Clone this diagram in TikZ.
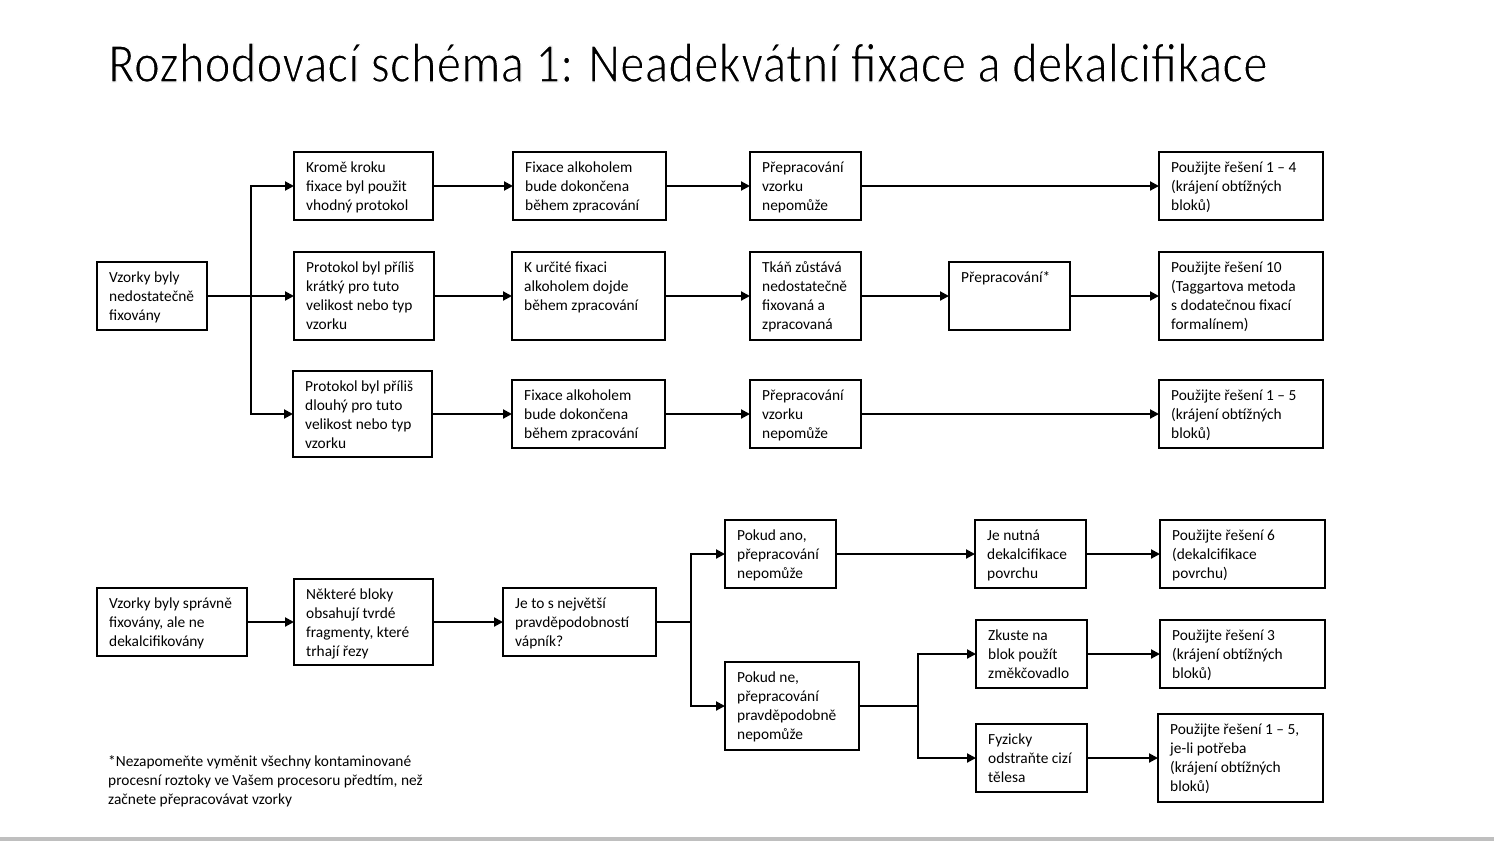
\documentclass[tikz,border=0pt]{standalone}
\usepackage{fontspec}
\setmainfont{Carlito}
\newfontfamily\titlefont[FakeStretch=0.88]{Carlito}
\usetikzlibrary{arrows.meta}
\newcommand{\mybox}[6]{%
  \node[boxst, minimum width=#4pt, minimum height=#5pt, anchor=north west] (#1) at (#2,#3) {};
  \node[txt, anchor=north west] (#1t) at ([shift={(12,6)}]#1.north west) {\rule{0pt}{14pt}#6};}
\newcommand{\thintext}[1]{\special{pdf:code 2 Tr 1 1 1 RG 1.2 w 1 j}#1\special{pdf:code 0 Tr 0 0 0 RG}}
\begin{document}
\begin{tikzpicture}[x=1pt,y=-1pt,
  boxst/.style={draw=black, line width=2.2pt, inner sep=0pt, outer sep=0pt, fill=white},
  txt/.style={inner sep=0pt, align=left, font=\fontsize{15.4}{19}\selectfont},
  arr/.style={line width=2pt, -{Triangle[length=9pt,width=9pt]}},
  ln/.style={line width=2pt}]
\useasboundingbox (0,0) rectangle (1494,841);
\fill[white] (0,0) rectangle (1494,841);
\fill[black!25] (0,837) rectangle (1494,841);
% top group
\mybox{A}{97}{262}{110}{68}{Vzorky byly\\nedostatečně\\fixovány}
\mybox{B1}{294}{152}{139}{68}{Kromě kroku\\fixace byl použit\\vhodný protokol}
\mybox{B2}{294}{252}{140}{88}{Protokol byl příliš\\krátký pro tuto\\velikost nebo typ\\vzorku}
\mybox{B3}{293}{371}{139}{86}{Protokol byl příliš\\dlouhý pro tuto\\velikost nebo typ\\vzorku}
\mybox{C1}{513}{152}{153}{68}{Fixace alkoholem\\bude dokončena\\během zpracování}
\mybox{C2}{512}{252}{153}{88}{K určité fixaci\\alkoholem dojde\\během zpracování}
\mybox{C3}{512}{380}{153}{68}{Fixace alkoholem\\bude dokončena\\během zpracování}
\mybox{D1}{750}{152}{111}{68}{Přepracování\\vzorku\\nepomůže}
\mybox{D2}{750}{252}{111}{88}{Tkáň zůstává\\nedostatečně\\fixovaná a\\zpracovaná}
\mybox{D3}{750}{380}{111}{68}{Přepracování\\vzorku\\nepomůže}
\mybox{E2}{949}{262}{121}{68}{Přepracování*}
\mybox{F1}{1159}{152}{164}{68}{Použijte řešení 1 – 4\\(krájení obtížných\\bloků)}
\mybox{F2}{1159}{252}{164}{88}{Použijte řešení 10\\(Taggartova metoda\\s dodatečnou fixací\\formalínem)}
\mybox{F3}{1159}{380}{164}{68}{Použijte řešení 1 – 5\\(krájení obtížných\\bloků)}
% bottom group
\mybox{G}{97}{588}{150}{68}{Vzorky byly správně\\fixovány, ale ne\\dekalcifikovány}
\mybox{H}{294}{579}{139}{86}{Některé bloky\\obsahují tvrdé\\fragmenty, které\\trhají řezy}
\mybox{I}{503}{588}{153}{68}{Je to s největší\\pravděpodobností\\vápník?}
\mybox{J1}{725}{520}{111}{68}{Pokud ano,\\přepracování\\nepomůže}
\mybox{J2}{725}{662}{134}{88}{Pokud ne,\\přepracování\\pravděpodobně\\nepomůže}
\mybox{K1}{975}{520}{111}{68}{Je nutná\\dekalcifikace\\povrchu}
\mybox{K2}{976}{620}{111}{68}{Zkuste na\\blok použít\\změkčovadlo}
\mybox{K3}{976}{724}{111}{68}{Fyzicky\\odstraňte cizí\\tělesa}
\mybox{L1}{1160}{520}{165}{68}{Použijte řešení 6\\(dekalcifikace\\povrchu)}
\mybox{L2}{1160}{620}{165}{68}{Použijte řešení 3\\(krájení obtížných\\bloků)}
\mybox{L3}{1158}{714}{165}{88}{Použijte řešení 1 – 5,\\je-li potřeba\\(krájení obtížných\\bloků)}
\node[txt, anchor=north west] (note) at (108,752) {\rule{0pt}{14pt}*Nezapomeňte vyměnit všechny kontaminované\\procesní roztoky ve Vašem procesoru předtím, než\\začnete přepracovávat vzorky};
% connectors top
\coordinate (s1) at (251,296);
\draw[arr] (A.east) -- (A.east -| B2.west);
\draw[arr] (s1) |- (B1.west);
\draw[arr] (s1) |- (B3.west);
\draw[arr] (B1.east) -- (C1.west);
\draw[arr] (B2.east) -- (C2.west);
\draw[arr] (B3.east) -- (B3.east -| C3.west);
\draw[arr] (C1.east) -- (D1.west);
\draw[arr] (C2.east) -- (D2.west);
\draw[arr] (C3.east) -- (D3.west);
\draw[arr] (D1.east) -- (F1.west);
\draw[arr] (D2.east) -- (D2.east -| E2.west);
\draw[arr] (E2.east) -- (E2.east -| F2.west);
\draw[arr] (D3.east) -- (F3.west);
% connectors bottom
\draw[arr] (G.east) -- (G.east -| H.west);
\draw[arr] (H.east) -- (H.east -| I.west);
\coordinate (s2) at (691,622);
\draw[ln] (I.east) -- (s2);
\draw[arr] (s2) |- (J1.west);
\draw[arr] (s2) |- (J2.west);
\draw[arr] (J1.east) -- (K1.west);
\draw[arr] (K1.east) -- (L1.west);
\coordinate (s3) at (918,706);
\draw[ln] (J2.east) -- (s3);
\draw[arr] (s3) |- (K2.west);
\draw[arr] (s3) |- (K3.west);
\draw[arr] (K2.east) -- (L2.west);
\draw[arr] (K3.east) -- (K3.east -| L3.west);
% title last
\node[anchor=base west, inner sep=0pt, font=\titlefont\fontsize{56}{60}\selectfont] (title) at (108,82) {\thintext{Rozhodovací schéma 1: Neadekvátní fixace a dekalcifikace}};
\end{tikzpicture}
\end{document}
